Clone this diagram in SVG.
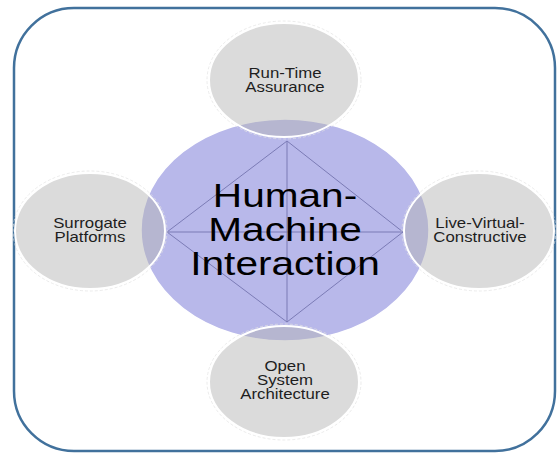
<svg xmlns="http://www.w3.org/2000/svg" width="558" height="454" viewBox="0 0 558 454">
<style>
.frame{fill:#ffffff;stroke:#41719c;stroke-width:2.5}
.core{fill:#b8b8ea;stroke:#ffffff;stroke-width:1.5}
.sat{fill:#b4b4b4;fill-opacity:0.48;stroke:#ffffff;stroke-width:2}
.halo{fill:none;stroke:#e2e2e2;stroke-width:0.7;stroke-dasharray:3 2}
.link{stroke:#7b7bb5;stroke-width:1;fill:none}
.big{font-family:"Liberation Sans",Arial,sans-serif;font-size:33px;fill:#000;text-anchor:middle}
.small{font-family:"Liberation Sans",Arial,sans-serif;font-size:14px;fill:#1e1e1e;text-anchor:middle}
</style>
<rect class="frame" x="14" y="8" width="541" height="443" rx="60" ry="60"/>
<g id="hmi">
<ellipse class="core" cx="285" cy="230" rx="144" ry="111"/>
</g>
<g id="connectors">
<path class="link" d="M287,141 L167,232 L287,322 L403,232 Z M167,232 L403,232 M287,141 L287,322"/>
</g>
<g id="hmi-label" transform="translate(285,0) scale(1.23,1)">
<text class="big" x="0" y="207">Human-<tspan x="0" dy="34">Machine</tspan><tspan x="0" dy="34">Interaction</tspan></text>
</g>
<g id="rta">
<ellipse class="halo" cx="284" cy="80" rx="77" ry="59"/>
<ellipse class="sat" cx="284" cy="80" rx="75" ry="57"/>
<g transform="translate(285,0) scale(1.2,1)">
<text class="small" x="0" y="78">Run-Time<tspan x="0" dy="14">Assurance</tspan></text>
</g>
</g>
<g id="surrogate">
<ellipse class="halo" cx="90" cy="231" rx="77" ry="60"/>
<ellipse class="sat" cx="90" cy="231" rx="75" ry="58"/>
<g transform="translate(90,0) scale(1.2,1)">
<text class="small" x="0" y="228">Surrogate<tspan x="0" dy="14">Platforms</tspan></text>
</g>
</g>
<g id="lvc">
<ellipse class="halo" cx="479" cy="231" rx="77" ry="60"/>
<ellipse class="sat" cx="479" cy="231" rx="75" ry="58"/>
<g transform="translate(480,0) scale(1.2,1)">
<text class="small" x="0" y="228">Live-Virtual-<tspan x="0" dy="14">Constructive</tspan></text>
</g>
</g>
<g id="osa">
<ellipse class="halo" cx="284" cy="382" rx="77" ry="58"/>
<ellipse class="sat" cx="284" cy="382" rx="75" ry="56"/>
<g transform="translate(285,0) scale(1.2,1)">
<text class="small" x="0" y="371">Open<tspan x="0" dy="14">System</tspan><tspan x="0" dy="14">Architecture</tspan></text>
</g>
</g>
</svg>
